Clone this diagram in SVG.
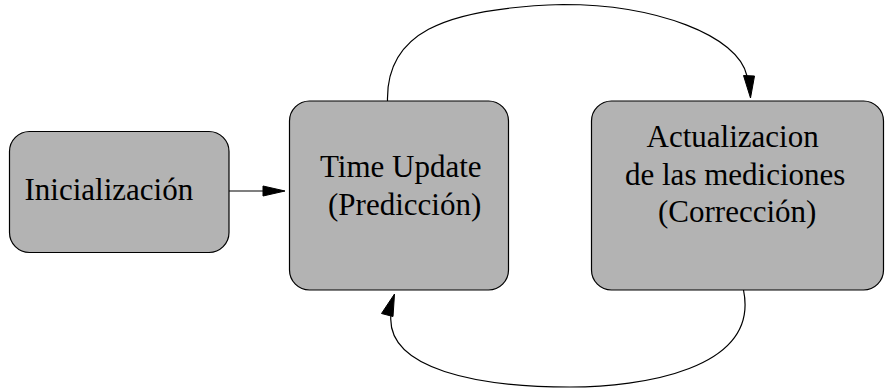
<svg xmlns="http://www.w3.org/2000/svg" width="885" height="392" viewBox="0 0 885 392">
<style>
.box{fill:#b3b3b3;stroke:#000;stroke-width:1.2}
.lbl{font-family:"Liberation Serif","Times New Roman",serif;font-size:31px;fill:#000}
.wire{fill:none;stroke:#000;stroke-width:1.2}
.head{fill:#000;stroke:#000;stroke-width:1}
</style>
<rect width="885" height="392" fill="#fff"/>
<g id="connectors">
<path class="wire" d="M229,191 L265,191"/>
<polygon class="head" points="263,186 285,191 263,196"/>
<path class="wire" d="M387.5,101 C386,35 440,8 563,4.5 C655,4.5 738,35 747,76"/>
<polygon class="head" points="743.5,75.5 754.5,76 750.5,98"/>
<path class="wire" d="M743.5,290 C760,370 640,387 570,387 C480,387 385,370 391,314"/>
<polygon class="head" points="381.5,313.5 393,316.5 394.5,294"/>
</g>
<g id="init">
<rect class="box" x="9.5" y="131.5" width="219.5" height="121" rx="20" ry="20"/>
<text class="lbl" x="24.5" y="200">Inicialización</text>
</g>
<g id="timeupdate">
<rect class="box" x="289.5" y="101" width="219" height="189" rx="20" ry="20"/>
<text class="lbl" x="320" y="177">Time Update</text>
<text class="lbl" x="328" y="215">(Predicción)</text>
</g>
<g id="correccion">
<rect class="box" x="591.5" y="101" width="292" height="189" rx="20" ry="20"/>
<text class="lbl" x="646.5" y="147">Actualizacion</text>
<text class="lbl" x="625" y="185">de las mediciones</text>
<text class="lbl" x="658" y="222">(Corrección)</text>
</g>
</svg>
